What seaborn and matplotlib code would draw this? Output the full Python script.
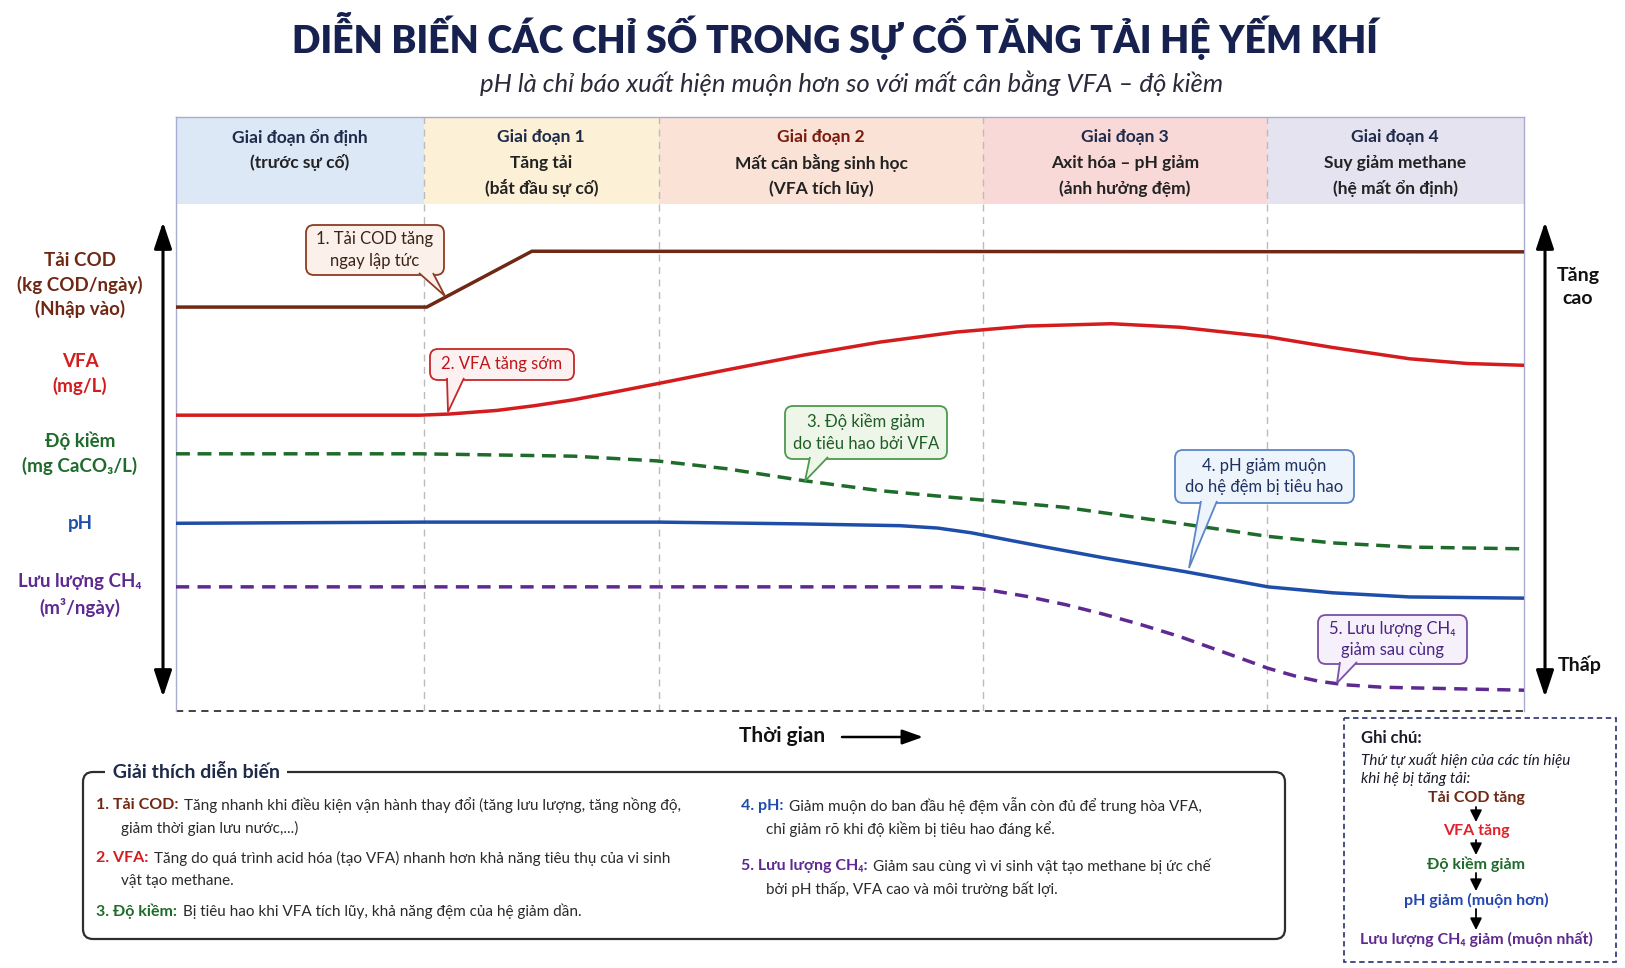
import numpy as np
import pandas as pd
import matplotlib
matplotlib.use("Agg")
import matplotlib.pyplot as plt
import seaborn as sns
from matplotlib.patches import FancyBboxPatch, Polygon, Rectangle

# --- du lieu doc tu hinh (truc thoi gian 0-100, muc tuong doi 0-100) ---
phase_edges = [0, 18.4, 35.8, 59.9, 80.9, 100]
phase_titles = ["Giai đoạn ổn định", "Giai đoạn 1", "Giai đoạn 2", "Giai đoạn 3", "Giai đoạn 4"]
phase_subs = [["(trước sự cố)"],
              ["Tăng tải", "(bắt đầu sự cố)"],
              ["Mất cân bằng sinh học", "(VFA tích lũy)"],
              ["Axit hóa – pH giảm", "(ảnh hưởng đệm)"],
              ["Suy giảm methane", "(hệ mất ổn định)"]]

cod_t = [0, 18.6, 26.4, 100]
cod_v = [68.0, 68.0, 77.4, 77.3]

vfa_t = [0, 18.1, 20.3, 23.8, 26.6, 29.5, 32.3, 35.7, 40.8, 46.5, 52.2, 57.9, 63.1, 69.4, 74.5,
         81.0, 85.8, 91.5, 95.8, 100]
vfa_v = [49.8, 49.8, 50.0, 50.6, 51.4, 52.4, 53.6, 55.1, 57.4, 59.9, 62.1, 63.8, 64.8, 65.2, 64.6,
         63.0, 61.2, 59.3, 58.5, 58.2]

alk_t = [0, 18.1, 29.5, 35.7, 40.8, 46.5, 52.2, 57.4, 65.9, 75.9, 81.0, 85.8, 91.5, 100]
alk_v = [43.3, 43.3, 42.9, 42.1, 40.8, 38.8, 37.1, 36.0, 34.3, 31.1, 29.4, 28.3, 27.6, 27.3]

ph_t = [0, 18.4, 35.8, 46.3, 53.7, 56.5, 59.0, 61.5, 64.5, 68.8, 75.0, 81.0, 85.8, 91.5, 100]
ph_v = [31.6, 31.8, 31.8, 31.5, 31.2, 30.8, 30.0, 28.9, 27.6, 25.8, 23.4, 20.9, 19.9, 19.2, 19.0]

ch4_t = [0, 57.4, 59.7, 63.1, 66.0, 68.8, 71.5, 74.5, 78.7, 81.0, 83.0, 84.8, 86.8, 89.5, 100]
ch4_v = [20.9, 20.9, 20.6, 19.3, 17.9, 16.3, 14.6, 12.5, 9.1, 7.2, 5.9, 5.0, 4.4, 4.0, 3.5]

series_labels = ["Tải COD\n(kg COD/ngày)\n(Nhập vào)", "VFA\n(mg/L)", "Độ kiềm\n(mg CaCO₃/L)",
                 "pH", "Lưu lượng CH₄\n(m³/ngày)"]

# --- mau sac ---
C_COD, C_VFA, C_ALK, C_PH, C_CH4 = "#6E2814", "#D41C1E", "#1E6B2B", "#1F4EAA", "#5E2A91"
NAVY = "#17214F"
phase_bg = ["#DCE8F5", "#FCF0D6", "#FBE2D6", "#F9D8D8", "#E5E3F0"]

sns.set_theme(style="white")
plt.rcParams["font.family"] = ["Lato", "Noto Sans", "DejaVu Sans"]

fig = plt.figure(figsize=(16.25, 9.68), dpi=100)
W, H = 1625, 968
L, R, T, B = 176, 1524, 117, 711
ax = fig.add_axes([L / W, 1 - B / H, (R - L) / W, (B - T) / H])
ax.set_xlim(0, 100)
ax.set_ylim(0, 100)
ax.set_xticks([])
ax.set_yticks([])
for s in ["left", "right", "top"]:
    ax.spines[s].set_color("#A9ABD0")
    ax.spines[s].set_linewidth(1.0)
ax.spines["bottom"].set_visible(False)
ax.axhline(0, ls=(0, (4, 3)), color="#333333", lw=1.3, clip_on=False)

# dai tieu de giai doan
head_y0 = 85.35
for i in range(5):
    ax.add_patch(Rectangle((phase_edges[i], head_y0), phase_edges[i + 1] - phase_edges[i], 100 - head_y0,
                           facecolor=phase_bg[i], edgecolor="none", zorder=0))
    xm = (phase_edges[i] + phase_edges[i + 1]) / 2
    ax.text(xm, 96.6, phase_titles[i], ha="center", va="center", fontsize=12.5,
            color="#7B1A0E" if i == 2 else "#1E2A4A", fontweight="bold")
    for j, s in enumerate(phase_subs[i]):
        ax.text(xm, 92.3 - 4.3 * j, s, ha="center", va="center", fontsize=12.5, color="#222222",
                fontweight="bold")
for e in phase_edges[1:-1]:
    ax.axvline(e, color="#BBBBBB", ls=(0, (5, 4)), lw=1.0, zorder=1)

# duong dien bien
df_list = [
    (cod_t, cod_v, C_COD, "-", None),
    (vfa_t, vfa_v, C_VFA, "-", None),
    (alk_t, alk_v, C_ALK, "--", [4, 2.2]),
    (ph_t, ph_v, C_PH, "-", None),
    (ch4_t, ch4_v, C_CH4, "--", [3.8, 2.4]),
]
for t, v, c, ls, dash in df_list:
    d = pd.DataFrame({"t": t, "v": v})
    sns.lineplot(data=d, x="t", y="v", ax=ax, color=c, linewidth=2.5, linestyle=ls, zorder=3)
    ax.lines[-1].set_solid_joinstyle("round")
    if dash:
        ax.lines[-1].set_dashes(dash)
ax.set_xlabel("")
ax.set_ylabel("")

# --- lop phu toa do pixel ---
ov = fig.add_axes([0, 0, 1, 1], zorder=5)
ov.set_xlim(0, W)
ov.set_ylim(H, 0)
ov.axis("off")
ov.patch.set_alpha(0)

ov.text(835, 36, "DIỄN BIẾN CÁC CHỈ SỐ TRONG SỰ CỐ TĂNG TẢI HỆ YẾM KHÍ", ha="center", va="center",
        fontsize=27, fontweight="heavy", color=NAVY)
ov.text(852, 83, "pH là chỉ báo xuất hiện muộn hơn so với mất cân bằng VFA – độ kiềm", ha="center",
        va="center", fontsize=18.5, style="italic", color="#2A2A3A")

# nhan ben trai
label_y = [285, 374, 453, 523, 595]
label_c = [C_COD, C_VFA, C_ALK, C_PH, C_CH4]
for s, y, c in zip(series_labels, label_y, label_c):
    ov.text(80, y, s, ha="center", va="center", fontsize=13.5, color=c, fontweight="bold",
            linespacing=1.45)

# mui ten doc
for x in [163, 1545]:
    ov.annotate("", xy=(x, 222), xytext=(x, 697),
                arrowprops=dict(arrowstyle="<|-|>,head_length=0.9,head_width=0.3", lw=2.2, color="black",
                                mutation_scale=18, shrinkA=0, shrinkB=0))
ov.text(1578, 287, "Tăng\ncao", ha="center", va="center", fontsize=14, fontweight="bold",
        color="#111111", linespacing=1.5)
ov.text(1580, 665, "Thấp", ha="center", va="center", fontsize=14, fontweight="bold", color="#111111")

# truc thoi gian
ov.text(782, 736, "Thời gian", ha="center", va="center", fontsize=15, fontweight="bold", color="#111111")
ov.annotate("", xy=(923, 737), xytext=(842, 737),
            arrowprops=dict(arrowstyle="-|>,head_length=0.7,head_width=0.25", lw=1.8, color="black",
                            mutation_scale=18, shrinkA=0, shrinkB=0))


def callout(x0, y0, x1, y1, base, tip, text, ec, fc, tc):
    box = FancyBboxPatch((x0, y0), x1 - x0, y1 - y0, boxstyle="round,pad=0,rounding_size=8",
                         fc=fc, ec=ec, lw=1.3, zorder=6)
    ov.add_patch(box)
    tail = Polygon([(base[0], y1 - 2), tip, (base[1], y1 - 2)], closed=False, fc=fc, ec=ec, lw=1.3,
                   zorder=7, joinstyle="miter")
    ov.add_patch(tail)
    ov.text((x0 + x1) / 2, (y0 + y1) / 2, text, ha="center", va="center", fontsize=12, color=tc,
            linespacing=1.45, zorder=8)


callout(306, 225, 444, 275, (419, 433), (445, 296), "1. Tải COD tăng\nngay lập tức",
        "#8E3B22", "#FBF0EA", "#3A2418")
callout(430, 349, 574, 380, (447, 464), (448, 412), "2. VFA tăng sớm", "#C4282A", "#FDF0F0", "#C0151A")
callout(785, 406, 947, 459, (810, 828), (805, 481), "3. Độ kiềm giảm\ndo tiêu hao bởi VFA",
        "#4C9A4C", "#EEF6EA", "#1D5E25")
callout(1175, 450, 1354, 503, (1201, 1217), (1189, 568), "4. pH giảm muộn\ndo hệ đệm bị tiêu hao",
        "#5B86C8", "#EEF4FB", "#1E3160")
callout(1318, 615, 1467, 664, (1340, 1357), (1337, 683), "5. Lưu lượng CH₄\ngiảm sau cùng",
        "#7A4FA8", "#F6F0FA", "#4B2585")

# --- hop giai thich ---
ov.add_patch(FancyBboxPatch((83, 772), 1202, 167, boxstyle="round,pad=0,rounding_size=10",
                            fc="white", ec="#2E2E2E", lw=1.6, zorder=2))
ov.text(108, 772, " Giải thích diễn biến ", ha="left", va="center", fontsize=14, fontweight="bold",
        color="#1E2A4A", zorder=4, bbox=dict(fc="white", ec="none", pad=2))

items = [
    (96, 805, "1.", "Tải COD:", "Tăng nhanh khi điều kiện vận hành thay đổi (tăng lưu lượng, tăng nồng độ,",
     "giảm thời gian lưu nước,...)", C_COD),
    (96, 858, "2.", "VFA:", "Tăng do quá trình acid hóa (tạo VFA) nhanh hơn khả năng tiêu thụ của vi sinh",
     "vật tạo methane.", C_VFA),
    (96, 911, "3.", "Độ kiềm:", "Bị tiêu hao khi VFA tích lũy, khả năng đệm của hệ giảm dần.", None, C_ALK),
    (741, 806, "4.", "pH:", "Giảm muộn do ban đầu hệ đệm vẫn còn đủ để trung hòa VFA,",
     "chỉ giảm rõ khi độ kiềm bị tiêu hao đáng kể.", C_PH),
    (741, 866, "5.", "Lưu lượng CH₄:", "Giảm sau cùng vì vi sinh vật tạo methane bị ức chế",
     "bởi pH thấp, VFA cao và môi trường bất lợi.", C_CH4),
]
for x, y, num, lab, body1, body2, c in items:
    t1 = ov.text(x, y, num + " " + lab, ha="left", va="center", fontsize=11.5, fontweight="bold",
                 color=c, zorder=4)
    ov.annotate(body1, xy=(1, 0.5), xycoords=t1, xytext=(4, 0), textcoords="offset points",
                ha="left", va="center", fontsize=11, color="#2A2A2A", zorder=4)
    if body2:
        ov.text(x + 25, y + 23, body2, ha="left", va="center", fontsize=11, color="#2A2A2A", zorder=4)

# --- ghi chu ---
ov.add_patch(Rectangle((1344, 718), 272, 244, fc="white", ec="#3A3F7A", lw=1.3, ls=(0, (3, 2)), zorder=2))
ov.text(1361, 738, "Ghi chú:", ha="left", va="center", fontsize=12, fontweight="bold", color="#1A1A2A",
        zorder=4)
ov.text(1361, 769, "Thứ tự xuất hiện của các tín hiệu\nkhi hệ bị tăng tải:", ha="left", va="center",
        fontsize=11, style="italic", color="#1A1A2A", linespacing=1.35, zorder=4)
chain = ["Tải COD tăng", "VFA tăng", "Độ kiềm giảm", "pH giảm (muộn hơn)", "Lưu lượng CH₄ giảm (muộn nhất)"]
chain_y = [798, 831, 864, 900, 939]
chain_c = [C_COD, "#E0222A", C_ALK, "#2446B0", C_CH4]
for s, y, c in zip(chain, chain_y, chain_c):
    ov.text(1476, y, s, ha="center", va="center", fontsize=11.5, fontweight="bold", color=c, zorder=4)
for y0, y1 in zip(chain_y[:-1], chain_y[1:]):
    ov.annotate("", xy=(1476, y1 - 9), xytext=(1476, y0 + 9),
                arrowprops=dict(arrowstyle="-|>,head_length=0.5,head_width=0.25", lw=1.3, color="black",
                                mutation_scale=14, shrinkA=0, shrinkB=0), zorder=4)

fig.savefig("out.png", dpi=100, facecolor="white")
